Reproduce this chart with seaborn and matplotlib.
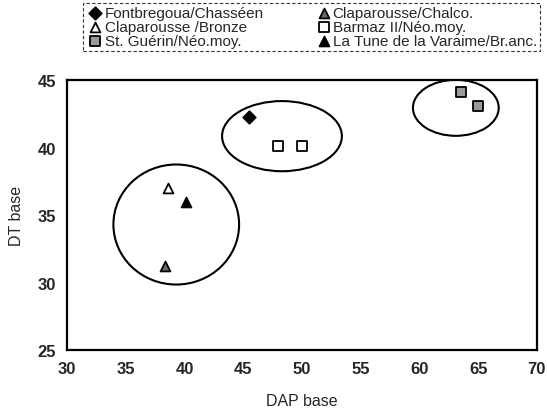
import pandas as pd
import seaborn as sns
import matplotlib
matplotlib.use('Agg')
import matplotlib.pyplot as plt
from matplotlib.patches import Ellipse

# data
groups = ['Fontbregoua/Chasséen', 'Claparousse /Bronze', 'St. Guérin/Néo.moy.',
          'Claparousse/Chalco.', 'Barmaz II/Néo.moy.', 'La Tune de la Varaime/Br.anc.']
dap = [[45.5], [38.6], [63.5, 65.0], [38.3], [48.0, 50.0], [40.1]]
dt = [[42.3], [37.0], [44.1, 43.1], [31.2], [40.1, 40.1], [36.0]]

markers = ['D', '^', 's', '^', 's', '^']
faces = ['black', 'white', '#9a9a9a', '#6a6a6a', 'white', 'black']
sizes = [40, 50, 50, 50, 55, 50]

# group outlines (center x, center y, width, height)
ell_x = [39.3, 48.3, 63.1]
ell_y = [34.3, 40.85, 42.95]
ell_w = [10.7, 10.2, 7.3]
ell_h = [8.9, 5.2, 4.15]

rows = []
for g, xs, ys in zip(groups, dap, dt):
    for x, y in zip(xs, ys):
        rows.append({'group': g, 'DAP base': x, 'DT base': y})
df = pd.DataFrame(rows)

sns.set_style('white')
plt.rcParams['font.family'] = ['Liberation Sans', 'DejaVu Sans']

fig = plt.figure(figsize=(5.47, 4.10), dpi=100)
ax = fig.add_axes([0.1225, 0.144, 0.859, 0.658])

for g, m, fc, s in zip(groups, markers, faces, sizes):
    sns.scatterplot(data=df[df['group'] == g], x='DAP base', y='DT base', marker=m,
                    color=fc, edgecolor='black', linewidth=1.3, s=s, label=g, ax=ax, zorder=3)

for cx, cy, w, h in zip(ell_x, ell_y, ell_w, ell_h):
    ax.add_patch(Ellipse((cx, cy), w, h, fill=False, edgecolor='black', linewidth=1.5, zorder=2))

ax.set_xlim(30, 70)
ax.set_ylim(25, 45)
ax.set_xticks(range(30, 71, 5))
ax.set_yticks(range(25, 46, 5))
ax.tick_params(direction='in', length=3, width=1, pad=8)
for lab in ax.get_xticklabels() + ax.get_yticklabels():
    lab.set_fontweight('bold')
    lab.set_fontsize(12)
for sp in ax.spines.values():
    sp.set_linewidth(1.6)
    sp.set_color('black')
ax.set_xlabel('DAP base', fontsize=11.5, labelpad=12)
ax.set_ylabel('DT base', fontsize=11.5, labelpad=10)

h, l = ax.get_legend_handles_labels()
ax.get_legend().remove()
leg = fig.legend(h, l, ncol=2, loc='upper left', mode='expand',
                 bbox_to_anchor=(0.152, 0.865, 0.835, 0.125), fontsize=11,
                 frameon=True, fancybox=False, handletextpad=0.0, handlelength=1.2,
                 labelspacing=0.0, borderpad=0.2, borderaxespad=0, columnspacing=0.5)
leg.get_frame().set_edgecolor('black')
leg.get_frame().set_linewidth(0.8)
leg.get_frame().set_linestyle((0, (3, 2)))

fig.savefig('out.png', dpi=100)
